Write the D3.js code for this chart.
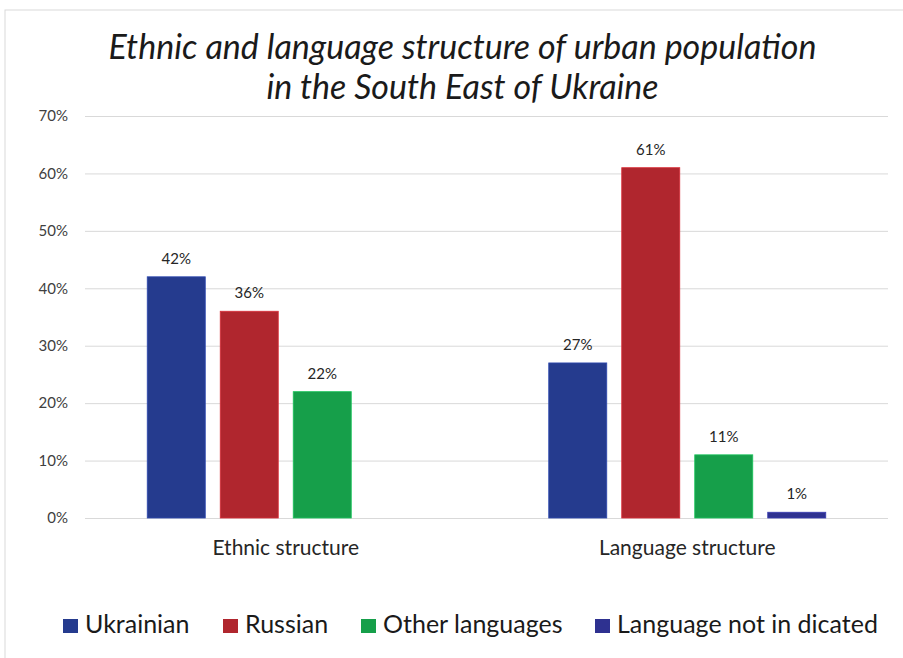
<!DOCTYPE html>
<html><head><meta charset="utf-8">
<script src="https://cdn.jsdelivr.net/npm/d3@7"></script>
<style>body{margin:0;background:#fff}svg{display:block}</style>
</head><body>
<script>
const categories = ["Ethnic structure", "Language structure"];
const seriesNames = ["Ukrainian", "Russian", "Other languages", "Language not in dicated"];
const ukrainian = [42, 27];
const russian = [36, 61];
const otherLanguages = [22, 11];
const notIndicated = [null, 1];
const yTicks = [0, 10, 20, 30, 40, 50, 60, 70];
const colors = ["#253B8E", "#B0262E", "#169F4A", "#2E3190"];
const titleLines = ["Ethnic and language structure of urban population", "in the South East of Ukraine"];

const W = 903, H = 658;
const font = "Lato, 'Open Sans', sans-serif";
const svg = d3.select("body").append("svg").attr("width", W).attr("height", H);
svg.append("rect").attr("x", 5).attr("y", 10).attr("width", W + 10).attr("height", H + 10)
  .attr("fill", "#fff").attr("stroke", "#d9d9d9").attr("stroke-width", 1);

const plot = {left: 85, right: 888, top: 116, bottom: 518};
const x0 = d3.scaleBand().domain(categories).range([plot.left, plot.right]).paddingInner(0.31).paddingOuter(0.155);
const x1 = d3.scaleBand().domain(seriesNames).range([0, x0.bandwidth()]).paddingInner(0.205).paddingOuter(0);
const y = d3.scaleLinear().domain([0, 70]).range([plot.bottom, plot.top]);

// title
svg.append("g").selectAll("text").data(titleLines).join("text")
  .attr("x", W / 2 + 11).attr("y", (d, i) => 59 + i * 40)
  .attr("text-anchor", "middle").attr("font-family", font).attr("font-style", "italic")
  .attr("font-size", 34).attr("fill", "#1a1a1a").text(d => d);

// grid + y axis
const yAxis = d3.axisLeft(y).tickValues(yTicks).tickFormat(d => d + "%").tickSize(-(plot.right - plot.left)).tickPadding(17);
const gy = svg.append("g").attr("transform", `translate(${plot.left},0)`).call(yAxis);
gy.select(".domain").remove();
gy.selectAll(".tick line").attr("stroke", "#d9d9d9").attr("stroke-width", 1);
gy.selectAll(".tick text").attr("font-family", font).attr("font-size", 15).attr("fill", "#404040");

// bars
const series = [ukrainian, russian, otherLanguages, notIndicated];
const barData = [];
categories.forEach((c, ci) => seriesNames.forEach((s, si) => {
  const v = series[si][ci];
  if (v != null) barData.push({c, s, v, color: colors[si]});
}));
const gb = svg.append("g");
gb.selectAll("rect").data(barData).join("rect")
  .attr("x", d => x0(d.c) + x1(d.s)).attr("width", x1.bandwidth())
  .attr("y", d => y(d.v)).attr("height", d => y(0) - y(d.v))
  .attr("fill", d => d.color).attr("stroke", d => d3.color(d.color).brighter(0.6)).attr("stroke-width", 0.8);
gb.selectAll("text").data(barData).join("text")
  .attr("x", d => x0(d.c) + x1(d.s) + x1.bandwidth() / 2).attr("y", d => y(d.v) - 13)
  .attr("text-anchor", "middle").attr("font-family", font).attr("font-size", 15).attr("fill", "#262626")
  .text(d => d.v + "%");

// x axis labels
const xAxis = d3.axisBottom(x0).tickSize(0).tickPadding(22);
const gx = svg.append("g").attr("transform", `translate(0,${plot.bottom})`).call(xAxis);
gx.select(".domain").remove();
gx.selectAll(".tick text").attr("font-family", font).attr("font-size", 21).attr("fill", "#262626");

// legend
const legendX = [63, 223, 361, 595];
const lg = svg.append("g").selectAll("g").data(seriesNames).join("g")
  .attr("transform", (d, i) => `translate(${legendX[i]},619)`);
lg.append("rect").attr("x", 0).attr("y", 0).attr("width", 15).attr("height", 14).attr("fill", (d, i) => colors[i]);
lg.append("text").attr("x", 22).attr("y", 14).attr("font-family", font).attr("font-size", 25).attr("fill", "#1a1a1a").text(d => d);
</script>
</body></html>
